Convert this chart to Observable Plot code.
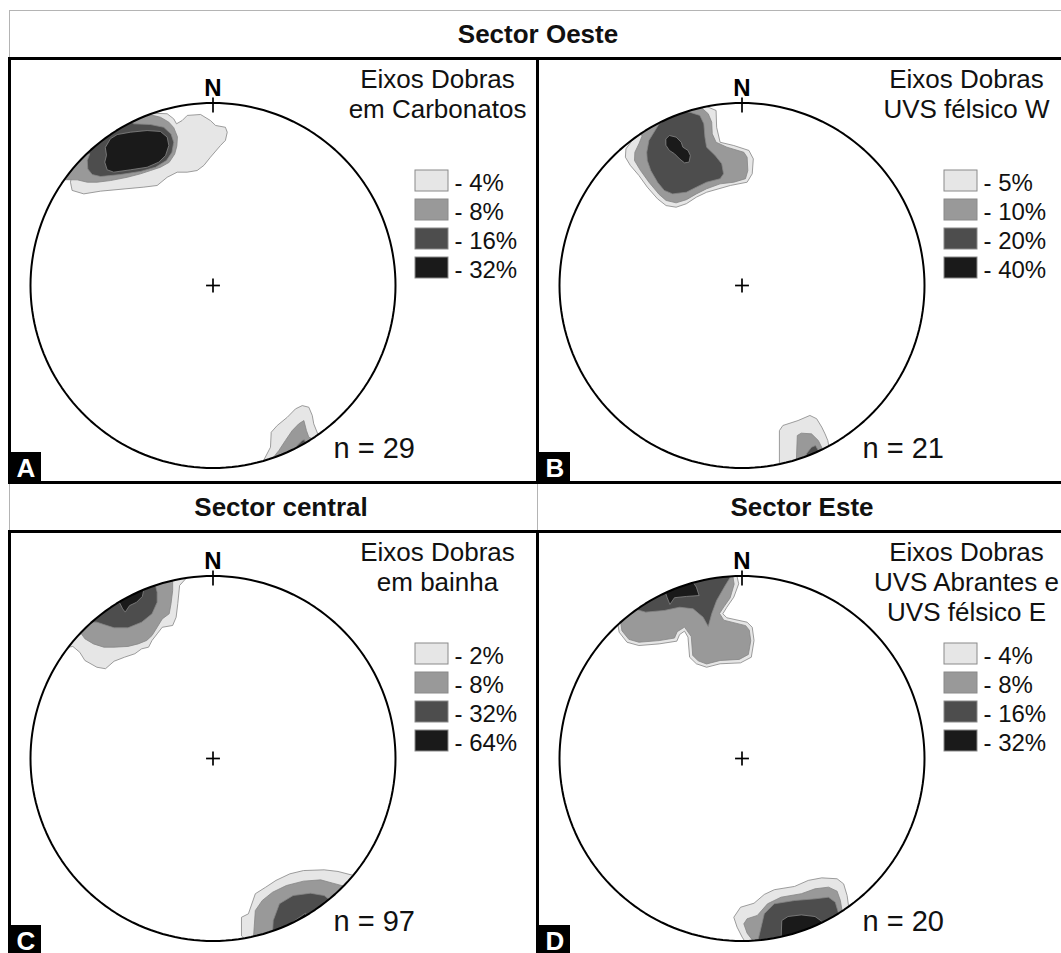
<!DOCTYPE html>
<html><head><meta charset="utf-8">
<script src="https://cdn.jsdelivr.net/npm/d3@7"></script>
<script src="https://cdn.jsdelivr.net/npm/@observablehq/plot@0.6"></script>
<style>
html,body{margin:0;padding:0;background:#fff;}
#fig{position:relative;width:1061px;height:953px;overflow:hidden;background:#fff;font-family:"Liberation Sans",Arial,sans-serif;}
.hdr{position:absolute;text-align:center;font-weight:bold;font-size:26px;color:#111;white-space:nowrap;}
.ln{position:absolute;}
.panel{position:absolute;}
</style></head><body><div id="fig"></div>
<script>
// ---------- data (contour polygons in % of the primitive radius; x east, y north) ----------
const levelColors = ["#e6e6e6", "#999999", "#4d4d4d", "#1a1a1a"];
const headersRow1 = ["Sector Oeste"];
const headersRow2 = ["Sector central", "Sector Este"];
const panelLetters = ["A", "B", "C", "D"];

const titlesA = ["Eixos Dobras", "em Carbonatos"];
const titlesB = ["Eixos Dobras", "UVS félsico W"];
const titlesC = ["Eixos Dobras", "em bainha"];
const titlesD = ["Eixos Dobras", "UVS Abrantes e", "UVS félsico E"];

const legendA = ["4%", "8%", "16%", "32%"];
const legendB = ["5%", "10%", "20%", "40%"];
const legendC = ["2%", "8%", "32%", "64%"];
const legendD = ["4%", "8%", "16%", "32%"];

const nValues = [29, 21, 97, 20];

const contoursA = [
  [0, [[-32.4,94.4],[-25.1,94.1],[-21.5,91.3],[-20,88.6],[-16.9,90.4],[-14.1,93.2],[-6.8,93.7],[-1.4,90.4],[1.4,87.7],[6.8,86.7],[7.8,84],[6.8,79.5],[4.1,76.7],[-1.4,70.3],[-5,65.8],[-8.7,63],[-14.1,62.1],[-19.6,62.1],[-25.1,59.3],[-30.6,54.8],[-37.9,53.9],[-61.6,51.7],[-70.8,50.2],[-77.2,52.1],[-78.1,56.6],[-77.5,60],[-90,60],[-70,90],[-33,105]]],
  [1, [[-34.2,93.5],[-28.8,92.2],[-24.2,89.5],[-21.5,86.5],[-19.5,81.5],[-19.8,76.5],[-21,72],[-24,67.5],[-28.8,64.8],[-34.2,63],[-39.7,61.2],[-47,59.3],[-56.2,57.5],[-63.5,56.6],[-68.9,56.6],[-74.4,57.9],[-85,58],[-60,95],[-34,105]]],
  [2, [[-43.4,88.6],[-34.2,88.2],[-27,86.7],[-23,83],[-21.5,78.5],[-22.5,73],[-25.5,68.5],[-31.5,64.8],[-39.7,62.5],[-50.7,60.8],[-61.6,59.7],[-66.2,60.8],[-68.6,63.9],[-68.9,68.5],[-67.5,72.2],[-80,70],[-50,100]]],
  [3, [[-58.9,75.8],[-56.2,80.4],[-52.5,82.7],[-45.2,84],[-36.1,84.9],[-28.8,84.4],[-25.1,81.3],[-24.2,76.7],[-26,71.2],[-29.7,67.6],[-36.1,64.8],[-45.2,63.4],[-54.4,62.1],[-58,63.4],[-59.3,67.6],[-58.4,71.2]]],
  [0, [[27.5,-96.3],[31.5,-88.6],[31.9,-80.4],[35.2,-76.7],[40.7,-72.2],[45.2,-67.6],[48.9,-65.8],[52.5,-66.7],[54.4,-71.2],[55.2,-75.8],[57.4,-81.3],[65,-85],[30,-105]]],
  [1, [[32.4,-95],[36.1,-90.4],[39.7,-84.9],[43.4,-79.5],[47,-75.8],[49.8,-74],[51.2,-79.5],[52.5,-83.1],[54.4,-84],[62,-88],[35,-102]]],
  [2, [[46.1,-87.7],[48.9,-84.9],[50.1,-84.5],[51.2,-87.7],[54,-92],[45,-95]]]
];

const contoursB = [
  [0, [[-19.4,98.1],[-14.2,95.9],[-13.9,86.7],[-12,78.5],[-4.5,76.7],[3.8,74],[6.2,69.4],[5.6,61.2],[2.8,56.6],[-6.4,54.8],[-19.4,51.1],[-25,48.4],[-30.5,44.8],[-36.1,42.9],[-41.6,43.8],[-46.3,47.5],[-51.9,53.9],[-56.5,60.3],[-61.2,65.8],[-63.9,70.3],[-63.6,74.9],[-60.2,79.5],[-56.5,82.2],[-65,85],[-25,105]]],
  [1, [[-22.2,97.4],[-18.5,94.1],[-16.6,89.5],[-16.3,83.1],[-14.2,78.5],[-8.3,75.8],[1,73],[2.8,70.3],[3.2,63],[1.9,58.5],[-4.5,56.6],[-12,55.7],[-19.4,53],[-25,50.2],[-30.5,47],[-36.1,45.3],[-41.6,46.6],[-45.4,49.9],[-51,56.6],[-55.6,63],[-58.9,68.5],[-58.7,73],[-56.5,77.6],[-54.6,82.2],[-62,85],[-25,105]]],
  [2, [[-31.3,95.2],[-28.7,95],[-23.1,93.2],[-20.9,88.6],[-20.3,81.3],[-19.4,75.8],[-14.7,71.2],[-11.1,66.7],[-10.1,61.2],[-12,58.5],[-19.4,56.6],[-25,53.9],[-30.5,51.1],[-38,50.2],[-42.6,52.1],[-46.3,56.6],[-50,63],[-51.9,68.5],[-52.2,73],[-51,79.5],[-45.4,88.6],[-38,93.2]]],
  [3, [[-41.6,80.4],[-39.8,82.2],[-36.1,81.3],[-33.3,78.5],[-32.4,75.8],[-29.6,74],[-28.3,71.2],[-29,67.6],[-31.5,67.2],[-34.2,69.4],[-37,72.2],[-39.8,74],[-41.6,76.7]]],
  [0, [[20.5,-97.7],[20.5,-79.5],[22.4,-76.7],[30.7,-74],[37.2,-71.2],[40.9,-73],[43.7,-77.6],[45.5,-81.3],[47,-84.9],[47.5,-87.5],[55,-90],[20,-105]]],
  [1, [[29.8,-95.9],[30.3,-82.2],[32.5,-80.9],[38.1,-81.3],[41.8,-84.9],[44.1,-89.5],[50,-95],[28,-102]]],
  [2, [[35.3,-92.2],[38.1,-88.6],[40.3,-87.7],[41.8,-90.4],[45,-95],[36,-98]]]
];

const contoursC = [
  [0, [[-14.5,99],[-18.3,94.8],[-19.3,84.8],[-20.2,77.4],[-22.1,72.9],[-27.8,71.9],[-30.6,68.3],[-33.4,64.7],[-35.3,61],[-39.1,60.1],[-42.8,57.4],[-48.5,55.5],[-54.2,53.3],[-58.9,49.2],[-63.6,50],[-70.2,53.7],[-73,58.2],[-76.8,61.4],[-85,60],[-50,100],[-14,104]]],
  [1, [[-22.1,97],[-22.1,92.1],[-23,84.8],[-24,79.3],[-27.8,76.5],[-30.6,71.9],[-33.4,67.4],[-36.3,64.7],[-41,62.8],[-46.6,61.4],[-54.2,61],[-59.8,61],[-65.5,62.8],[-70.2,65.6],[-72.1,68.3],[-80,70],[-50,100],[-22,102]]],
  [2, [[-63.6,74.7],[-59.8,73.4],[-54.2,71.6],[-46.6,71.6],[-39.1,74.7],[-33.4,79.3],[-30.6,85.6],[-30.6,91.1],[-31.5,94.8],[-32.5,96.6],[-60,90],[-75,75]]],
  [3, [[-51.3,85.6],[-49.5,82],[-48.1,80.2],[-45.7,83.8],[-41.9,85.6],[-38.7,88.8],[-38.1,91.7],[-37,97],[-53,89]]],
  [0, [[15.6,-97],[15.6,-87],[19.4,-85.1],[23.2,-74.1],[28.9,-70.5],[34.5,-66.8],[42.1,-63.2],[49.6,-61.4],[60.9,-61],[68.5,-61.9],[77,-64.1],[85,-60],[30,-110]]],
  [1, [[22.2,-97.9],[23.2,-83.3],[27,-77.8],[32.6,-73.3],[40.2,-69.6],[49.6,-67.2],[59,-66.5],[65.6,-68.3],[72.3,-70.1],[80,-72],[30,-105]]],
  [2, [[32.6,-96.1],[33,-88.8],[36.4,-79.6],[43.9,-75.1],[53.4,-73.8],[60.9,-75.1],[65.6,-78.7],[70,-80],[35,-102]]],
  [3, [[40.2,-92.1],[44.9,-88.8],[50.6,-84.8],[51.5,-87.8],[52,-90],[42,-96]]]
];

const contoursD = [
  [0, [[-2.7,99.7],[-1.8,95.7],[-4.5,88.4],[-8.3,82.9],[-10.5,79.3],[-8.3,77.1],[2.8,74.7],[5.6,71.9],[6.6,64.7],[5.1,55.5],[-0.8,52.4],[-12,51.9],[-19.4,50],[-25,51.9],[-28.7,55.5],[-29.6,66.5],[-31.5,69.8],[-34.2,67.9],[-35.7,64.3],[-45.4,62.8],[-56.5,61.9],[-63,63.7],[-67.3,69.2],[-68,73.4],[-75,80],[-30,105],[0,105]]],
  [1, [[-4.9,99.3],[-4.3,95.5],[-6.5,88],[-10,83],[-12.3,79.5],[-10,75.8],[2,72.8],[4,70.3],[4.8,64.5],[3.5,57],[-1.5,54.3],[-12,53.7],[-19.4,51.8],[-24,53.5],[-27,56.5],[-27.8,66.8],[-31.5,72],[-35.5,69.5],[-37,66],[-45.4,64.6],[-56.5,63.7],[-62,65.3],[-65.8,70],[-66.5,74.6],[-75,80],[-30,105],[-5,105]]],
  [2, [[-6.4,99.3],[-9.2,94.8],[-13.9,86.6],[-16.6,79.3],[-18.5,72.3],[-21.3,77.4],[-26.8,82],[-34.2,82.9],[-42.6,81.1],[-52.8,80.2],[-59.3,82],[-62.1,83.8],[-40,105]]],
  [3, [[-26.8,96.6],[-25,93.9],[-23.5,89.3],[-30.5,88.8],[-37,88.1],[-39.5,84.4],[-41.1,88.4],[-42,91.1],[-35,102]]],
  [0, [[1.9,-100.7],[0.1,-97.9],[-2.7,-92.4],[-4.5,-87],[-0.8,-81.5],[6.6,-79.3],[12.2,-74.5],[17.7,-71.9],[28.8,-70.1],[36.3,-66.8],[43.7,-65.4],[52.1,-65.9],[55.7,-68.7],[57.6,-75.1],[58.5,-81.5],[65,-80],[40,-105],[0,-110]]],
  [1, [[6.6,-100.7],[2.8,-95.7],[1,-90.6],[2.8,-87.8],[8.4,-86],[14,-79.6],[21.4,-76],[32.5,-74.1],[40,-71.4],[47.4,-70.5],[52.1,-72.7],[53.9,-77.8],[54.8,-83.3],[60,-90],[30,-105],[7,-105]]],
  [2, [[8.4,-101.2],[12.2,-85.1],[17.7,-79.6],[28.8,-77.8],[40,-76.9],[47.4,-76],[51.1,-78.7],[53,-85.1],[55,-95],[10,-105]]],
  [3, [[21.4,-99.7],[21.8,-88.8],[25.2,-86.6],[32.5,-85.7],[40,-86.6],[43.7,-89.2],[45.2,-92.8],[50,-95],[20,-105]]]
];

// ---------- layout ----------
const FONT = '"Liberation Sans", Arial, Helvetica, sans-serif';
const R = 182.5, CX = 203.5, CY = 227, PW = 529, PH = 424;
const tx = px => (px - CX) / R * 100;   // panel pixel -> net units
const ty = py => (CY - py) / R * 100;

const primitive = d3.range(0, 360, 2).map(a => [Math.sin(a * Math.PI / 180), Math.cos(a * Math.PI / 180)]);
const MASK_W = 50;                       // white ring hiding contour parts outside the net
const maskK = 100 * (R + MASK_W / 2) / R;

const fig = document.getElementById("fig");

function panel(key, contours, titles, legend, n, letter, left, top) {
  const sorted = contours.slice().sort((a, b) => a[0] - b[0]);
  const marks = [];
  for (const [lvl, pts] of sorted) {
    marks.push(Plot.line(pts, {x: d => d[0], y: d => d[1], curve: "linear-closed",
      fill: levelColors[lvl], stroke: "#858585", strokeWidth: 0.8}));
  }
  // mask outside the primitive circle
  marks.push(Plot.line(primitive, {x: d => d[0] * maskK, y: d => d[1] * maskK, curve: "linear-closed",
    stroke: "#fff", strokeWidth: MASK_W, fill: "none"}));
  marks.push(Plot.line(primitive, {x: d => d[0] * 100, y: d => d[1] * 100, curve: "linear-closed", stroke: "#000", strokeWidth: 2}));
  // centre cross and north tick
  marks.push(Plot.link([[-3.8, 0, 3.8, 0], [0, -3.8, 0, 3.8], [0, 94.8, 0, 103]],
    {x1: d => d[0], y1: d => d[1], x2: d => d[2], y2: d => d[3], stroke: "#000", strokeWidth: 1.7}));
  marks.push(Plot.text(["N"], {x: 0, y: ty(37), text: d => d, fontSize: 24, fontWeight: "bold",
    fontFamily: FONT, lineAnchor: "bottom", textAnchor: "middle", fill: "#000"}));
  // title
  marks.push(Plot.text(titles, {x: tx(428), y: (d, i) => ty(29.5 + 30 * i), text: d => d, fontSize: 26,
    fontFamily: FONT, lineAnchor: "bottom", textAnchor: "middle", fill: "#111"}));
  // legend
  marks.push(Plot.rect(legend, {x1: tx(406), x2: tx(439), y1: (d, i) => ty(112 + 29 * i), y2: (d, i) => ty(133 + 29 * i),
    fill: (d, i) => levelColors[i], stroke: "#8a8a8a", strokeWidth: 1}));
  marks.push(Plot.text(legend, {x: tx(445), y: (d, i) => ty(132.5 + 29 * i), text: d => "- " + d, fontSize: 24,
    fontFamily: FONT, lineAnchor: "bottom", textAnchor: "start", fill: "#111"}));
  // n
  marks.push(Plot.text([n], {x: tx(324), y: ty(399), text: d => "n = " + d, fontSize: 29,
    fontFamily: FONT, lineAnchor: "bottom", textAnchor: "start", fill: "#111"}));
  // panel letter
  marks.push(Plot.rect([letter], {x1: tx(0), x2: tx(32), y1: ty(394), y2: ty(430), fill: "#000"}));
  marks.push(Plot.text([letter], {x: tx(16.5), y: ty(418), text: d => d, fontSize: 26, fontWeight: "bold",
    fontFamily: FONT, lineAnchor: "bottom", textAnchor: "middle", fill: "#fff"}));

  const svg = Plot.plot({
    width: PW, height: PH, margin: 0,
    x: {domain: [-100, 100], range: [CX - R, CX + R], axis: null},
    y: {domain: [-100, 100], range: [CY + R, CY - R], axis: null},
    style: {background: "transparent", fontFamily: FONT},
    marks
  });
  svg.classList.add("panel");
  svg.style.position = "absolute";
  svg.style.left = left + "px";
  svg.style.top = top + "px";
  fig.appendChild(svg);
}

panel("A", contoursA, titlesA, legendA, nValues[0], panelLetters[0], 9, 58);
panel("B", contoursB, titlesB, legendB, nValues[1], panelLetters[1], 538, 58);
panel("C", contoursC, titlesC, legendC, nValues[2], panelLetters[2], 9, 531);
panel("D", contoursD, titlesD, legendD, nValues[3], panelLetters[3], 538, 531);

function bar(l, t, w, h, bg) {
  const d = document.createElement("div"); d.className = "ln";
  Object.assign(d.style, {left: l + "px", top: t + "px", width: w + "px", height: h + "px", background: bg});
  fig.appendChild(d);
}
function header(text, l, w, t, h) {
  const d = document.createElement("div"); d.className = "hdr";
  Object.assign(d.style, {left: l + "px", top: t + "px", width: w + "px", height: h + "px", lineHeight: h + "px"});
  d.textContent = text; fig.appendChild(d);
}
header(headersRow1[0], 9, 1058, 10, 48);
header(headersRow2[0], 9, 544, 483, 48);
header(headersRow2[1], 538, 528, 483, 48);

const GRAY = "#b4b4b4";
bar(9, 10, 1052, 1, GRAY);       // top outer
bar(9, 10, 1, 48, GRAY);         // header left
bar(9, 483, 1, 48, GRAY);
bar(537, 483, 1, 48, GRAY);
bar(8, 57, 1053, 3, "#000");     // under header 1
bar(8, 481, 1053, 3, "#000");    // panel row 1 bottom
bar(8, 530, 1053, 3, "#000");    // under header 2
bar(8, 57, 3, 427, "#000");      // left A
bar(536, 57, 3, 427, "#000");    // A|B
bar(8, 530, 3, 423, "#000");     // left C
bar(536, 530, 3, 423, "#000");   // C|D
</script></body></html>
